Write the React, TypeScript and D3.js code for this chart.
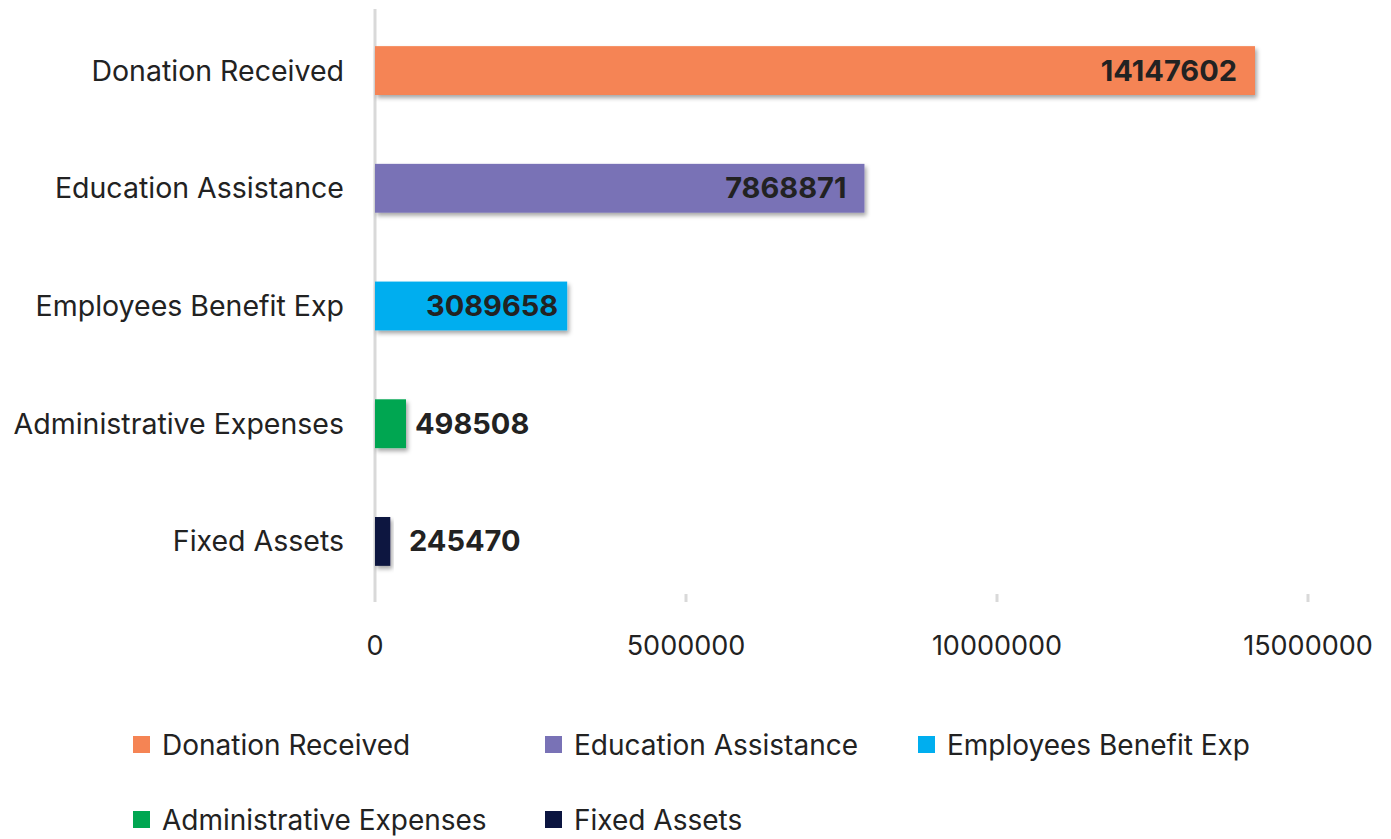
import React from "react";
import * as d3 from "d3";

const categories = ["Donation Received", "Education Assistance", "Employees Benefit Exp", "Administrative Expenses", "Fixed Assets"];
const values = [14147602, 7868871, 3089658, 498508, 245470];
const colors = ["#F58454", "#7972B6", "#00AEEF", "#00A651", "#0B1540"];
const ticks = [0, 5000000, 10000000, 15000000];

export default function App() {
  const W = 1391, H = 839;
  const x = d3.scaleLinear().domain([0, 15000000]).range([375, 1308]);
  const y = d3.scaleBand().domain(categories).range([12, 600]).paddingInner(0.585).paddingOuter(0.29);
  const font = "Inter, 'Noto Sans', sans-serif";
  const legendPos = [
    [133, 745], [545, 745], [918, 745], [133, 820], [545, 820],
  ];
  return (
    <svg width={W} height={H} style={{ position: "absolute", left: 0, top: 0 }}>
      <defs>
        <filter id="sh" x="-10%" y="-20%" width="130%" height="160%">
          <feDropShadow dx="2" dy="3" stdDeviation="2" floodColor="#000" floodOpacity="0.35" />
        </filter>
      </defs>
      <rect width={W} height={H} fill="#fff" />
      <line x1={x(0)} x2={x(0)} y1={9} y2={602} stroke="#d9d9d9" strokeWidth={3} />
      {ticks.slice(1).map((t) => (
        <line key={t} x1={x(t)} x2={x(t)} y1={594} y2={602} stroke="#d9d9d9" strokeWidth={3} />
      ))}
      {ticks.map((t) => (
        <text key={t} x={x(t)} y={655} textAnchor="middle" fontFamily={font} fontSize={27} fill="#222">{t}</text>
      ))}
      {categories.map((c, i) => {
        const yy = y(c)!;
        const bw = x(values[i]) - x(0);
        const inside = bw > 150;
        const off = bw > 300 ? 18 : 9;
        const lx = inside ? x(values[i]) - off : Math.max(x(values[i]) + 9, x(0) + 34);
        return (
          <g key={c}>
            <text x={344} y={yy + y.bandwidth() / 2 + 10} textAnchor="end" fontFamily={font} fontSize={28.5} fill="#222">{c}</text>
            <rect x={x(0)} y={yy} width={bw} height={y.bandwidth()} fill={colors[i]} filter="url(#sh)" />
            <text x={lx} y={yy + y.bandwidth() / 2 + 10}
              textAnchor={inside ? "end" : "start"} fontFamily={font} fontWeight={700} fontSize={29} fill="#222">{values[i]}</text>
          </g>
        );
      })}
      {categories.map((c, i) => (
        <g key={"l" + c}>
          <rect x={legendPos[i][0]} y={legendPos[i][1] - 9} width={17} height={17} fill={colors[i]} />
          <text x={legendPos[i][0] + 29} y={legendPos[i][1] + 10} fontFamily={font} fontSize={28} fill="#222">{c}</text>
        </g>
      ))}
    </svg>
  );
}
